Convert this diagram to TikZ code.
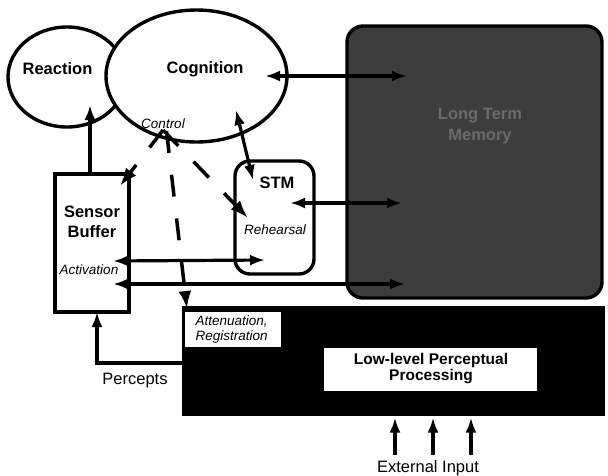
\documentclass[tikz,border=0pt]{standalone}
\usepackage{fontspec}
\setmainfont{Liberation Sans}
\usetikzlibrary{arrows.meta,shapes.geometric}
\begin{document}
\begin{tikzpicture}[x=1pt,y=-1pt,
  line width=3.2pt,
  tip/.style={-{Latex[length=15pt,width=11pt]}},
  dtip/.style={{Latex[length=15pt,width=11pt]}-{Latex[length=15pt,width=11pt]}},
  dtipd/.style={-{Latex[length=18pt,width=13pt]}},
  dashline/.style={dash pattern=on 22pt off 22pt, line width=3.5pt},
  boxshape/.style={draw, inner sep=0pt, line width=3.4pt},
  bigb/.style={inner sep=0pt, anchor=base, font=\bfseries\fontsize{16.5}{21}\selectfont},
  itl/.style={inner sep=0pt, anchor=base, font=\itshape\fontsize{13.5}{15}\selectfont},
  reg/.style={inner sep=0pt, anchor=base, font=\fontsize{16.5}{18}\selectfont}
]
\useasboundingbox (0,0) rectangle (608,475);
\fill[white] (0,0) rectangle (608,475);

% Long term memory
\node[boxshape, fill=black!76, rounded corners=16pt, minimum width=255pt, minimum height=272pt] (ltm) at (474.5,162) {};
\node[bigb, anchor=center, text=black!58, align=center] (ltmt) at (480,126) {Long Term\\Memory};

% Reaction and Cognition
\node[boxshape, ellipse, minimum width=118pt, minimum height=100pt] (rea) at (67,77) {};
\node[boxshape, ellipse, fill=white, minimum width=181pt, minimum height=132pt] (cog) at (196.5,76) {};
\node[bigb] (reat) at (57.5,74.5) {Reaction};
\node[bigb] (cogt) at (205,73) {Cognition};
\node[itl] (ctl) at (163,128) {Control};

% Sensor buffer
\node[boxshape, fill=white, minimum width=74pt, minimum height=138pt] (sb) at (92,243) {};
\node[bigb] (sbt1) at (92,217.5) {Sensor};
\node[bigb] (sbt2) at (92,237.5) {Buffer};
\node[itl] (act) at (89,274) {Activation};

% STM
\node[boxshape, rounded corners=15pt, minimum width=79pt, minimum height=113pt] (stm) at (274.5,217.5) {};
\node[bigb] (stmt) at (277,188.5) {STM};
\node[itl] (reh) at (275,234.5) {Rehearsal};

% Black processing box
\node[fill=black, inner sep=0pt, minimum width=423pt, minimum height=110pt] (blk) at (393.5,361) {};
\node[fill=white, inner sep=0pt, minimum width=96pt, minimum height=35pt] (attb) at (233,329.5) {};
\node[itl, anchor=west, align=left, font=\itshape\fontsize{13.5}{15}\selectfont] (attt) at (194,329.5) {Attenuation,\\Registration};
\node[fill=white, inner sep=0pt, minimum width=213pt, minimum height=43pt] (llp) at (430.5,369.5) {};
\node[inner sep=0pt, align=center, font=\bfseries\fontsize{15.5}{16}\selectfont] (llpt) at (431,369) {Low-level Perceptual\\Processing};

% labels
\node[reg] (perc) at (135,384) {Percepts};
\node[reg] (ext) at (428,472) {External Input};

% coordinates
\coordinate (c1) at (265,76);  \coordinate (l1) at (407,76);
\coordinate (s1) at (290,203); \coordinate (l2) at (402,203);
\coordinate (b1) at (113,284); \coordinate (l3) at (405,284);
\coordinate (b2) at (113,261); \coordinate (s2) at (265,260);
\coordinate (c2) at (236,110); \coordinate (s3) at (253,180);
\coordinate (bt) at (90,174);  \coordinate (r1) at (90,105);
\coordinate (ap) at (163,130); \coordinate (ap2) at (166.5,131);
\coordinate (bsb) at (120,186); \coordinate (rehc) at (248,218); \coordinate (attc) at (187,309);
\coordinate (pk) at (182,363); \coordinate (pc) at (97,363); \coordinate (pb) at (97,312);
\coordinate (e1) at (395,455); \coordinate (e2) at (433,455); \coordinate (e3) at (471,455);

% solid connectors
\draw[dtip] (c1) -- (l1);
\draw[dtip] (s1) -- (l2);
\draw[dtip] (b1) -- (l3);
\draw[dtip] (b2) -- (s2);
\draw[dtip] (c2) -- (s3);
\draw[tip] (bt) -- (r1);
\draw[tip] (pk) -- (pc) -- (pb);
\draw[tip] (e1) -- (e1 |- blk.south);
\draw[tip] (e2) -- (e2 |- blk.south);
\draw[tip] (e3) -- (e3 |- blk.south);

% dashed control connectors
\draw[dashline, dtipd] (ap) -- (bsb);
\draw[dashline, dtipd] (ap) -- (rehc);
\draw[dashline, dtipd] (ap2) -- (attc);
\end{tikzpicture}
\end{document}
